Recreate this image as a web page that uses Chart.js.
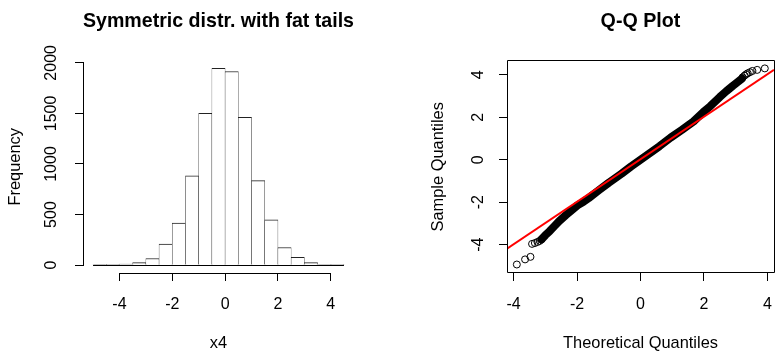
<!DOCTYPE html>
<html>
<head>
<meta charset="utf-8">
<script src="https://cdn.jsdelivr.net/npm/chart.js@4.4.1/dist/chart.umd.min.js"></script>
<style>
    html, body { margin: 0; padding: 0; background: #fff; }
    #wrap { position: relative; width: 779px; height: 353px; overflow: hidden; }
    canvas { position: absolute; top: 0; }
</style>
</head>
<body>
<div id="wrap">
    <canvas id="hist" width="389" height="353" style="left:0"></canvas>
    <canvas id="qq" width="390" height="353" style="left:389px"></canvas>
</div>
<script>
// histogram of x4 (bin edges and counts)
const histBreaks = [-5, -4.5, -4, -3.5, -3, -2.5, -2, -1.5, -1, -0.5, 0, 0.5, 1, 1.5, 2, 2.5, 3, 3.5, 4, 4.5]
const histCounts = [3, 1, 10, 25, 65, 207, 415, 882, 1500, 1945, 1915, 1461, 836, 447, 174, 78, 25, 8, 1]
const histXTicks = [-4, -2, 0, 2, 4]
const histYTicks = [0, 500, 1000, 1500, 2000]
const histXRange = [-5.38, 4.88]
const histYRange = [-78, 2023]

// Q-Q plot: dense middle band, the loose points in the tails, and qqline
const qqBandTheo   = [-3.12, -3.0, -2.87, -2.7, -2.56, -2.35, -2.15, -1.99, -1.8, -1.63, -1.3, -1.0, -0.6, -0.3, 0, 0.3, 0.6, 0.95, 1.3, 1.67, 1.98, 2.2, 2.5, 2.7, 2.91, 3.1, 3.2]
const qqBandSample = [-3.74, -3.55, -3.37, -3.1, -2.88, -2.6, -2.35, -2.15, -1.98, -1.8, -1.42, -1.08, -0.66, -0.32, 0, 0.32, 0.64, 1.04, 1.4, 1.8, 2.24, 2.52, 2.95, 3.22, 3.48, 3.7, 3.82]
const qqTailTheo   = [-3.90, -3.64, -3.47, -3.42, -3.33, -3.25, -3.18, -3.12, 3.22, 3.28, 3.33, 3.38, 3.45, 3.53, 3.68, 3.92]
const qqTailSample = [-4.93, -4.69, -4.57, -3.96, -3.92, -3.87, -3.82, -3.75, 3.88, 3.96, 4.02, 4.07, 4.12, 4.18, 4.23, 4.30]
const qqXTicks = [-4, -2, 0, 2, 4]
const qqYTicks = [-4, -2, 0, 2, 4]
const qqXRange = [-4.21, 4.21]
const qqYRange = [-5.33, 4.67]
const qqLineIntercept = 0.02
const qqLineSlope = 1.0

Chart.defaults.font.family = '"Liberation Sans", Arial, Helvetica, sans-serif'
Chart.defaults.color = '#000'

const alignPx = v => Math.round(v - 0.5) + 0.5

// R style axes: line only between first and last tick, or a full box
const rFrame = {
    id: 'rFrame',
    afterDatasetsDraw(chart, args, opts) {
        const { ctx, chartArea: a, scales: { x, y } } = chart
        ctx.save()
        ctx.strokeStyle = '#000'
        ctx.lineWidth = 1
        ctx.beginPath()
        if (opts.baseline) {
            const b = opts.baseline
            const y0 = alignPx(y.getPixelForValue(0))
            ctx.moveTo(x.getPixelForValue(b[0]), y0)
            ctx.lineTo(x.getPixelForValue(b[b.length - 1]), y0)
        }
        if (opts.box) {
            ctx.rect(alignPx(a.left), alignPx(a.top),
                Math.round(a.right - a.left), Math.round(a.bottom - a.top))
        } else {
            const xt = x.ticks, yt = y.ticks
            const by = alignPx(a.bottom), bx = alignPx(a.left)
            ctx.moveTo(alignPx(x.getPixelForValue(xt[0].value)) - 0.5, by)
            ctx.lineTo(alignPx(x.getPixelForValue(xt[xt.length - 1].value)) + 0.5, by)
            ctx.moveTo(bx, alignPx(y.getPixelForValue(yt[0].value)) + 0.5)
            ctx.lineTo(bx, alignPx(y.getPixelForValue(yt[yt.length - 1].value)) - 0.5)
        }
        ctx.stroke()
        ctx.restore()
    }
}

function axis(range, ticks, title, o) {
    return {
        type: 'linear',
        min: range[0],
        max: range[1],
        offset: false,
        afterBuildTicks: s => { s.ticks = ticks.map(v => ({ value: v })) },
        afterFit: o.fit,
        ticks: Object.assign({
            autoSkip: false,
            callback: v => String(v)
        }, o.ticks),
        grid: { drawOnChartArea: false, offset: false, tickLength: 8, color: '#000', lineWidth: 1 },
        border: { display: false },
        title: { display: true, text: title, font: { size: 16.4 }, padding: o.titlePad }
    }
}

// x tick labels pushed down through the line height, so no tick padding
// widens the plot margins
const xTickOpts = { padding: 0, maxRotation: 0, font: { size: 16, lineHeight: '47.4px' } }

function chartTitle(text) {
    return {
        display: true,
        text: text,
        fullSize: false,
        color: '#000',
        font: { size: 19.7, weight: 'bold' },
        padding: { top: 9.8, bottom: 27.1 }
    }
}

new Chart(document.getElementById('hist'), {
    type: 'bar',
    data: {
        datasets: [{
            data: histCounts.map((c, i) => ({ x: (histBreaks[i] + histBreaks[i + 1]) / 2, y: c })),
            backgroundColor: '#fff',
            borderColor: '#222',
            borderWidth: { top: 1, left: 0.5, right: 0.5, bottom: 0 },
            borderSkipped: false,
            barPercentage: 1,
            categoryPercentage: 1
        }]
    },
    options: {
        responsive: false,
        animation: false,
        layout: { padding: { left: 0, top: 0, right: 35, bottom: 0 } },
        plugins: {
            legend: { display: false },
            tooltip: { enabled: false },
            title: chartTitle('Symmetric distr. with fat tails'),
            rFrame: { baseline: histBreaks }
        },
        scales: {
            x: axis(histXRange, histXTicks, 'x4', {
                fit: s => { s.height = 80 },
                ticks: xTickOpts,
                titlePad: { top: 0, bottom: 0 }
            }),
            y: axis(histYRange, histYTicks, 'Frequency', {
                fit: s => { s.width = 83 },
                ticks: { font: { size: 16 }, minRotation: 90, maxRotation: 90, crossAlign: 'center', padding: 5.5 },
                titlePad: { top: 5.4, bottom: 0 }
            })
        }
    },
    plugins: [rFrame]
})

new Chart(document.getElementById('qq'), {
    type: 'scatter',
    data: {
        datasets: [
            {
                type: 'line',
                data: qqXRange.map(x => ({ x: x, y: qqLineIntercept + qqLineSlope * x })),
                borderColor: '#ff0000',
                borderWidth: 2,
                pointRadius: 0,
                showLine: true
            },
            {
                data: qqBandTheo.map((x, i) => ({ x: x, y: qqBandSample[i] })),
                showLine: true,
                borderColor: '#000',
                borderWidth: 8,
                borderCapStyle: 'round',
                borderJoinStyle: 'round',
                pointRadius: 0
            },
            {
                data: qqTailTheo.map((x, i) => ({ x: x, y: qqTailSample[i] })),
                showLine: false,
                pointRadius: 3.5,
                pointBorderWidth: 1,
                pointBorderColor: '#000',
                pointBackgroundColor: 'rgba(0,0,0,0)'
            }
        ]
    },
    options: {
        responsive: false,
        animation: false,
        layout: { padding: { left: 0, top: 0, right: 0, bottom: 0 } },
        plugins: {
            legend: { display: false },
            tooltip: { enabled: false },
            title: chartTitle('Q-Q Plot'),
            rFrame: { box: true }
        },
        scales: {
            x: axis(qqXRange, qqXTicks, 'Theoretical Quantiles', {
                fit: s => { s.height = 80 },
                ticks: xTickOpts,
                titlePad: { top: 0, bottom: 0 }
            }),
            y: axis(qqYRange, qqYTicks, 'Sample Quantiles', {
                fit: s => { s.width = 118 },
                ticks: { font: { size: 16 }, minRotation: 90, maxRotation: 90, crossAlign: 'center', padding: 13.6 },
                titlePad: { top: 39.7, bottom: 0 }
            })
        }
    },
    plugins: [rFrame]
})
</script>
</body>
</html>
